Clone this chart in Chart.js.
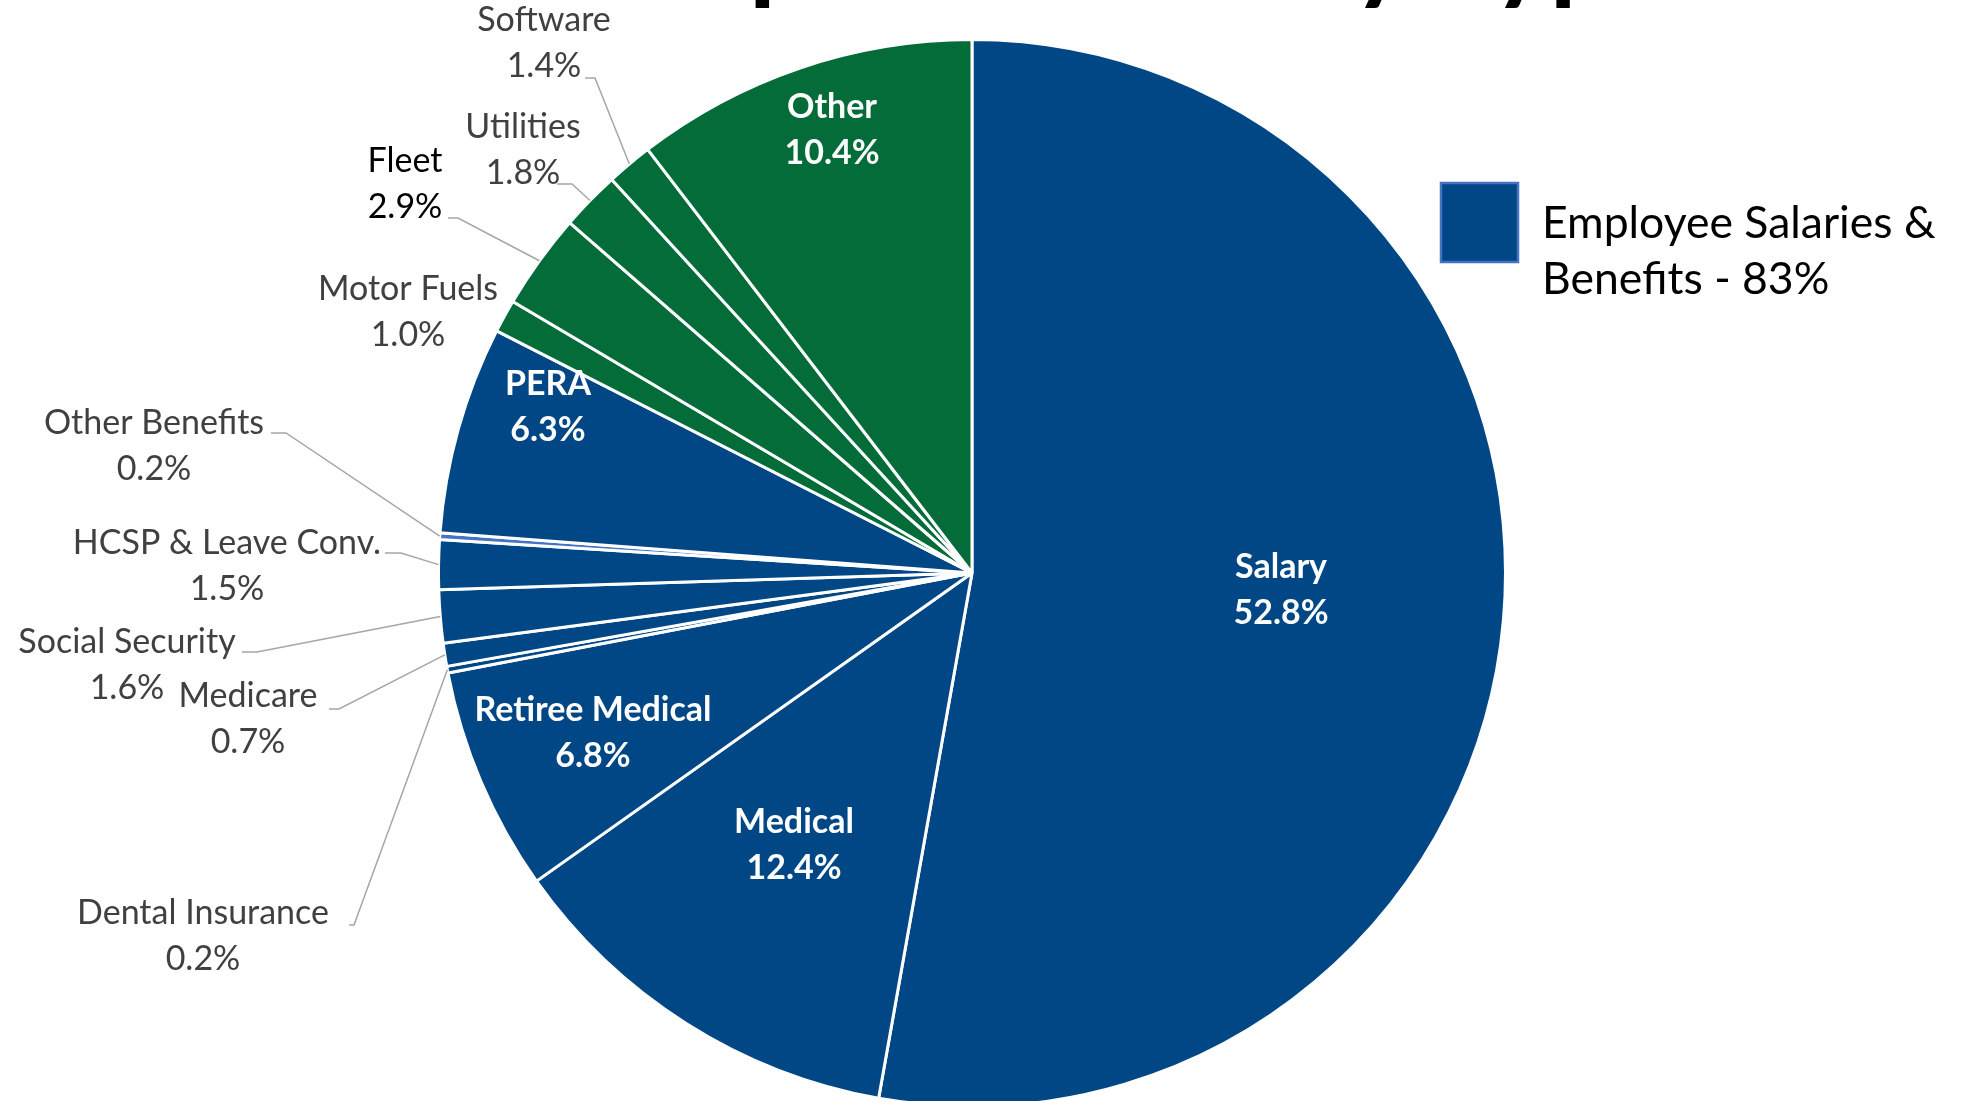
<!DOCTYPE html>
<html>
<head>
<meta charset="utf-8">
<script src="https://cdn.jsdelivr.net/npm/chart.js@4/dist/chart.umd.min.js"></script>
<style>
html,body{margin:0;padding:0;overflow:hidden;background:#ffffff;}
#wrap{width:1967px;height:1110px;}
</style>
</head>
<body>
<div id="wrap"><canvas id="c" width="1967" height="1110"></canvas></div>
<script>
// ---------- DATA ----------
const titleText = 'General Fund Expenditures by Type';
const categories = ['Salary','Medical','Retiree Medical','Dental Insurance','Medicare','Social Security',
  'HCSP & Leave Conv.','Other Benefits','PERA','Motor Fuels','Fleet','Utilities','Software','Other'];
const shares = [52.8,12.4,6.8,0.2,0.7,1.6,1.5,0.2,6.3,1.0,2.9,1.8,1.4,10.4];
const groups = ['benefits','benefits','benefits','benefits','benefits','benefits','benefits','benefits','benefits',
  'other','other','other','other','other'];
const legendLines = ['Employee Salaries &','Benefits - 83%'];

// ---------- STYLE / LAYOUT ----------
const BLUE = '#014785', GREEN = '#036C39', LIGHTBLUE = '#4472C4';
const sliceColors = categories.map((c,i)=> c==='Other Benefits' ? LIGHTBLUE : (groups[i]==='benefits'?BLUE:GREEN));
const FONT = 'Lato, "Open Sans", sans-serif';
const LINE_H = 46;
// label block centre offsets from pie centre; leader: [startDx, startDy, elbowLen]
const labelLayout = [
  {i:0,  dx:309,  dy:17,   inside:true},
  {i:1,  dx:-178, dy:272,  inside:true},
  {i:2,  dx:-379, dy:160,  inside:true},
  {i:8,  dx:-424, dy:-166, inside:true},
  {i:13, dx:-140, dy:-443, inside:true},
  {i:12, dx:-428, dy:-530, leader:[-387,-495,10]},
  {i:11, dx:-449, dy:-423, leader:[-415,-389,15]},
  {i:10, dx:-567, dy:-389, leader:[-524,-355,10], color:'#000000'},
  {i:9,  dx:-564, dy:-261},
  {i:7,  dx:-818, dy:-127, leader:[-701,-140,15]},
  {i:6,  dx:-745, dy:-7,   leader:[-587,-20,16]},
  {i:5,  dx:-845, dy:92,   leader:[-730,79,15]},
  {i:4,  dx:-724, dy:146,  leader:[-643,136,10]},
  {i:3,  dx:-769, dy:363,  leader:[-623,352,5]}
];

const labelPlugin = {
  id:'sliceLabels',
  afterDatasetsDraw(chart){
    const ctx = chart.ctx;
    const meta = chart.getDatasetMeta(0);
    const c0 = meta.data[0].getProps(['x','y'], true);
    const cx = c0.x, cy = c0.y;
    ctx.save();
    labelLayout.forEach(L=>{
      const arc = meta.data[L.i];
      const p = arc.getProps(['startAngle','endAngle','outerRadius'], true);
      if (L.leader){
        const mid = (p.startAngle+p.endAngle)/2;
        const ex = cx + p.outerRadius*Math.cos(mid), ey = cy + p.outerRadius*Math.sin(mid);
        ctx.strokeStyle = '#A6A6A6'; ctx.lineWidth = 1.5;
        ctx.beginPath();
        ctx.moveTo(cx+L.leader[0], cy+L.leader[1]);
        ctx.lineTo(cx+L.leader[0]+L.leader[2], cy+L.leader[1]);
        ctx.lineTo(ex, ey);
        ctx.stroke();
      }
      ctx.textAlign = 'center'; ctx.textBaseline = 'middle';
      if (L.inside){ ctx.font = 'bold 34px '+FONT; ctx.fillStyle = '#FFFFFF'; }
      else { ctx.font = '34px '+FONT; ctx.fillStyle = L.color || '#404040'; }
      ctx.fillText(categories[L.i], cx+L.dx, cy+L.dy-LINE_H/2);
      ctx.fillText(shares[L.i].toFixed(1)+'%', cx+L.dx, cy+L.dy+LINE_H/2);
    });
    ctx.restore();
  }
};

const legendPlugin = {
  id:'customLegend',
  afterDraw(chart){
    const ctx = chart.ctx;
    ctx.save();
    ctx.fillStyle = BLUE; ctx.fillRect(1441,183,77,79);
    ctx.strokeStyle = LIGHTBLUE; ctx.lineWidth = 2.5; ctx.strokeRect(1441,183,77,79);
    ctx.fillStyle = '#000000'; ctx.font = '44.5px '+FONT;
    ctx.textAlign='left'; ctx.textBaseline='alphabetic';
    ctx.fillText(legendLines[0], 1542, 238);
    ctx.fillText(legendLines[1], 1542, 294);
    ctx.restore();
  }
};

const titlePlugin = {
  id:'cutTitle',
  afterDraw(chart){
    const ctx = chart.ctx;
    ctx.save();
    let size = 100;
    ctx.font = 'bold '+size+'px '+FONT;
    const iP = titleText.indexOf('Expenditures')+2;
    const iY = titleText.indexOf('by')+1;
    const pc = ctx.measureText(titleText.slice(0,iP)).width + ctx.measureText('p').width/2;
    const yc = ctx.measureText(titleText.slice(0,iY)).width + ctx.measureText('y').width/2;
    const k = 603/(yc-pc);
    size = size*k;
    ctx.font = 'bold '+size+'px '+FONT;
    const x0 = 780 - pc*k;
    const desc = ctx.measureText('p').actualBoundingBoxDescent;
    ctx.fillStyle = '#000000'; ctx.textAlign='left'; ctx.textBaseline='alphabetic';
    ctx.fillText(titleText, x0, 8 - desc);
    ctx.restore();
  }
};

new Chart(document.getElementById('c'), {
  type:'pie',
  data:{
    labels: categories,
    datasets:[{
      data: shares,
      backgroundColor: sliceColors,
      borderColor:'#FFFFFF',
      borderWidth:3,
      hoverOffset:0,
      offset:0
    }]
  },
  options:{
    responsive:false,
    animation:false,
    events:[],
    layout:{padding:{left:437, top:38, right:460, bottom:2}},
    plugins:{legend:{display:false}, tooltip:{enabled:false}, title:{display:false}}
  },
  plugins:[labelPlugin, legendPlugin, titlePlugin]
});
</script>
</body>
</html>
